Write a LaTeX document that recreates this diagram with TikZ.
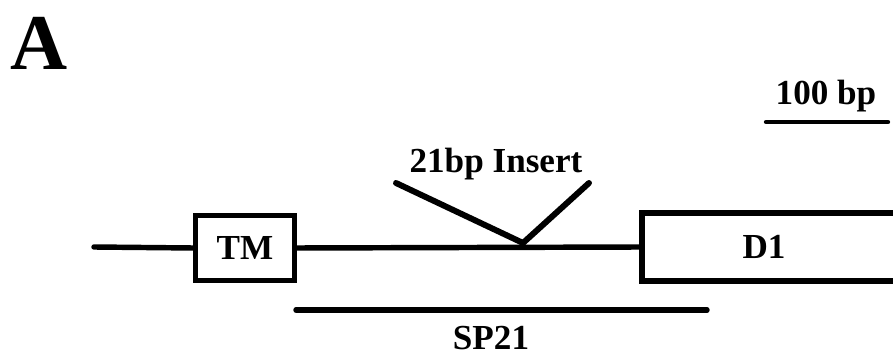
\documentclass[tikz,border=0pt]{standalone}
\usepackage{fontspec}
\setmainfont{Liberation Serif}
\usetikzlibrary{positioning}

\begin{document}
\begin{tikzpicture}[x=0.02cm,y=-0.02cm,
 dna/.style={line width=3.1pt,draw=black,line cap=round},
 domainbox/.style={draw=black,line width=3.1pt,minimum width=1.98cm,minimum height=1.3cm,inner sep=0pt},
 every node/.style={font=\bfseries\fontsize{20}{22}\selectfont,inner sep=1pt}]
\useasboundingbox (0,0) rectangle (893,357);
\clip (0,0) rectangle (893,357);
% panel letter and scale
\node[font=\bfseries\fontsize{45}{48}\selectfont,anchor=base west] (panel) at (8,70) {A};
\node[anchor=base] (scale) at (826,105) {100 bp};
\coordinate (bar l) at (766,122);
\coordinate (bar r) at (888,122);
\draw[dna,line width=2.5pt] (bar l) -- (bar r);
% gene
\coordinate (start) at (94,247);
\node[domainbox] (tm) at (245,248) {TM};
\coordinate (d1 top) at (642,213);
\coordinate (d1 bot) at (642,281);
\coordinate (d1 in) at (642,247);
\draw[line width=3.1pt] (905,213) -- (d1 top) -- (d1 bot) -- (905,281);
\node (d1) at (764,247) {D1};
\draw[dna] (start) -- (tm.west);
\draw[dna,line cap=butt] (tm.east) -- (d1 in);
% insert
\coordinate (ins) at (523,243);
\coordinate (ins l) at (396,183);
\coordinate (ins r) at (589,183);
\node[anchor=base] (insert) at (496,173) {21bp Insert};
\draw[dna,line width=3.4pt,line join=round] (ins l) -- (ins) -- (ins r);
% probe
\coordinate (sp l) at (296,310);
\coordinate (sp r) at (707,310);
\draw[dna] (sp l) -- (sp r);
\node[anchor=base] (sp21) at (491,350) {SP21};
\end{tikzpicture}
\end{document}
